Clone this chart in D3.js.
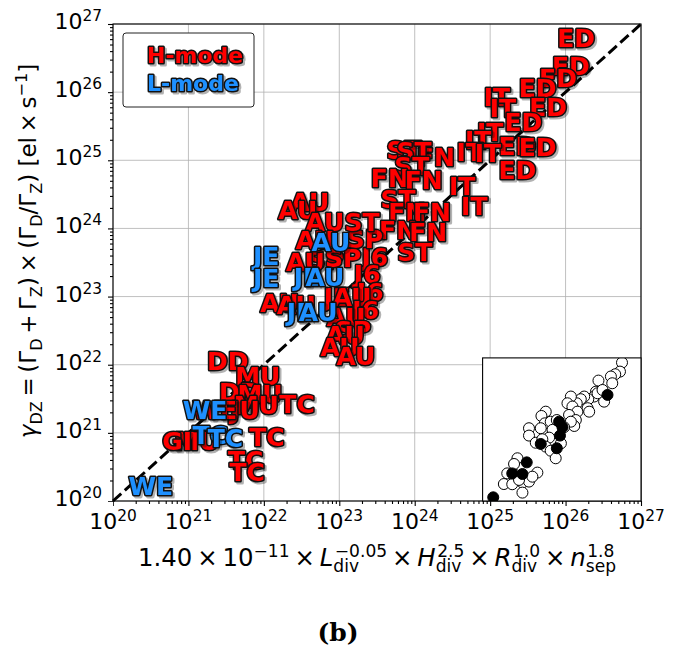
<!DOCTYPE html>
<html>
<head>
<meta charset="utf-8">
<script src="https://cdn.jsdelivr.net/npm/d3@7"></script>
<style>
  html, body { margin: 0; padding: 0; background: #fff; }
  svg { display: block; }
  text { font-family: "DejaVu Sans", sans-serif; }
  .devlabel { filter: drop-shadow(2px 2px 0px rgba(0,0,0,0.3)); }
</style>
</head>
<body>
<svg id="chart" width="689" height="648"></svg>
<script>
// ---- data (log10 of the x and y quantities) ----
const hmodeDevice = ["ED","ED","ED","ED","ED","IT","IT","ED","IT","IT","ED","ED","ED","IT","IT","FN",
  "ST","ST","ST","FN","FN","IT","IT","ST","FN","FN","FN","FN","ST","J6","SP","ST",
  "AU","AU","AU","AU","SP","AU","SP","J6","J6","JE","AU","AU","AU","J6","AU","SP","AU","AU","AU",
  "DD","MU","DD","MU","TC","MU","JU","WE","MU","GI","TC","TC","TC"];
const hmodeLogX = [26.14,26.07,25.90,25.63,25.77,25.09,25.17,25.44,25.00,24.84,25.36,25.63,25.36,24.73,24.97,24.28,
  23.86,23.99,23.96,23.67,24.12,24.63,24.79,23.78,23.90,24.23,23.78,24.18,24.00,23.47,23.34,23.30,
  22.61,22.45,22.81,22.68,22.82,22.55,23.05,23.37,23.41,22.97,23.17,22.21,22.43,23.35,23.09,23.18,23.08,23.01,23.22,
  21.52,21.92,21.68,21.95,22.44,21.90,21.75,21.35,21.11,20.85,22.04,21.76,21.78];
const hmodeLogY = [26.79,26.38,26.21,26.06,25.78,25.93,25.77,25.56,25.41,25.30,25.21,25.19,24.86,25.12,25.11,25.05,
  25.15,25.14,24.92,24.74,24.71,24.62,24.33,24.43,24.24,24.24,23.98,23.95,23.65,23.58,23.85,24.09,
  24.39,24.27,24.09,23.83,23.54,23.51,23.57,23.33,23.07,22.99,22.99,22.91,22.88,22.80,22.70,22.51,22.44,22.26,22.13,
  22.05,21.83,21.60,21.57,21.42,21.41,21.34,21.34,20.88,20.88,20.94,20.60,20.43];

const lmodeDevice = ["JE","JE","AU","JE","AU","JE","AU","WE","TC","TC","WE"];
const lmodeLogX = [22.03,22.03,22.89,22.57,22.81,22.48,22.72,21.22,21.29,21.49,20.50];
const lmodeLogY = [23.60,23.27,23.80,23.29,23.29,22.77,22.77,21.34,20.97,20.92,20.22];

// inset: open and filled circles
const insetOpenLogX = [26.16,26.07,25.86,25.67,25.73,25.12,25.01,24.93,24.67,24.49,24.34,24.16,23.90,23.75,23.97,24.19,24.64,24.71,23.82,24.12,24.05,23.90,25.37,25.08,25.30,
  22.79,22.60,22.75,22.57,23.01,23.09,22.94,22.05,22.05,22.35,22.64,22.79,23.01,23.23,23.46,23.60,23.28,
  21.54,21.39,21.46,21.09,20.94,21.31,21.76,22.05,22.42,21.76,22.20,21.61];
const insetOpenLogY = [26.77,26.33,26.20,26.09,25.76,25.89,25.35,25.11,24.98,25.11,24.98,24.78,25.11,24.78,24.62,24.37,24.54,24.37,24.21,23.96,23.67,23.88,24.86,25.27,25.43,
  24.37,24.16,23.80,23.56,23.88,23.48,23.10,23.56,23.20,22.85,23.02,22.66,22.46,22.09,22.82,23.61,23.96,
  22.09,21.81,21.27,21.35,20.83,20.82,20.90,20.95,21.39,20.41,21.19,21.03];
const insetFilledLogX = [25.52,23.38,23.53,23.42,23.28,22.57,21.95,21.31,21.76,20.47];
const insetFilledLogY = [25.19,23.88,23.61,23.20,22.58,22.79,21.89,21.35,21.32,20.18];

const tickExponents = [20,21,22,23,24,25,26,27];
const legendEntries = ["H-mode", "L-mode"];
const modeColor = { H: "#ff0000", L: "#1e90ff" };

// ---- layout ----
const svg = d3.select("#chart");
const plot = { left: 113, right: 641, top: 24, bottom: 501 };

const x = d3.scaleLog().domain([1e20, 1e27]).range([plot.left, plot.right]);
const y = d3.scaleLog().domain([1e20, 1e27]).range([plot.bottom, plot.top]);

const decades = tickExponents.map(e => Math.pow(10, e));
const minors = [];
tickExponents.slice(0, -1).forEach(e => {
  for (let k = 2; k <= 9; k++) minors.push(k * Math.pow(10, e));
});

// grid
const grid = svg.append("g").attr("stroke", "#b0b0b0").attr("stroke-width", 0.8);
grid.selectAll("line.gx").data(decades).join("line")
  .attr("x1", d => x(d)).attr("x2", d => x(d))
  .attr("y1", plot.top).attr("y2", plot.bottom);
grid.selectAll("line.gy").data(decades).join("line")
  .attr("y1", d => y(d)).attr("y2", d => y(d))
  .attr("x1", plot.left).attr("x2", plot.right);

// y = x reference line
svg.append("line")
  .attr("x1", x(1e20)).attr("y1", y(1e20))
  .attr("x2", x(1e27)).attr("y2", y(1e27))
  .attr("stroke", "#000").attr("stroke-width", 3)
  .attr("stroke-dasharray", "11.1,4.8");

// device labels: bold text, dark outline, soft offset shadow
function drawLabels(layer, names, lx, ly, color, fs) {
  const rows = names.map((n, i) => ({ n, x: Math.pow(10, lx[i]), y: Math.pow(10, ly[i]) }));
  layer.selectAll(null).data(rows).join("text")
    .attr("class", "devlabel")
    .attr("x", d => x(d.x)).attr("y", d => y(d.y)).attr("dy", "0.36em")
    .attr("text-anchor", "middle")
    .style("font-size", fs + "px").style("font-weight", "bold")
    .attr("fill", color).attr("stroke", "#111").attr("stroke-width", 3)
    .attr("stroke-linejoin", "round").attr("paint-order", "stroke")
    .text(d => d.n);
}
const labelLayer = svg.append("g");
drawLabels(labelLayer, hmodeDevice, hmodeLogX, hmodeLogY, modeColor.H, 25);
drawLabels(labelLayer, lmodeDevice, lmodeLogX, lmodeLogY, modeColor.L, 25);

// frame
svg.append("rect")
  .attr("x", plot.left).attr("y", plot.top)
  .attr("width", plot.right - plot.left).attr("height", plot.bottom - plot.top)
  .attr("fill", "none").attr("stroke", "#000").attr("stroke-width", 1.1);

// axes ticks
const xAxisG = svg.append("g").attr("transform", `translate(0,${plot.bottom})`);
xAxisG.call(d3.axisBottom(x).tickValues(decades).tickSize(5).tickFormat(""));
xAxisG.append("g").call(d3.axisBottom(x).tickValues(minors).tickSize(3).tickFormat(""));
const yAxisG = svg.append("g").attr("transform", `translate(${plot.left},0)`);
yAxisG.call(d3.axisLeft(y).tickValues(decades).tickSize(5).tickFormat(""));
yAxisG.append("g").call(d3.axisLeft(y).tickValues(minors).tickSize(3).tickFormat(""));
svg.selectAll(".domain").remove();
xAxisG.selectAll(".tick line").attr("stroke-width", 1.1);
yAxisG.selectAll(".tick line").attr("stroke-width", 1.1);
xAxisG.select("g").selectAll(".tick line").attr("stroke-width", 0.8);
yAxisG.select("g").selectAll(".tick line").attr("stroke-width", 0.8);

// tick labels 10^n
const tickFs = 22, supFs = 15.4;
tickExponents.forEach(e => {
  const t = svg.append("text").attr("x", x(Math.pow(10, e))).attr("y", 529)
    .attr("text-anchor", "middle").style("font-size", tickFs + "px");
  t.append("tspan").text("10");
  t.append("tspan").attr("dy", -8).style("font-size", supFs + "px").text(e);
  const u = svg.append("text").attr("x", 102).attr("y", y(Math.pow(10, e)) + 5)
    .attr("text-anchor", "end").style("font-size", tickFs + "px");
  u.append("tspan").text("10");
  u.append("tspan").attr("dy", -8).style("font-size", supFs + "px").text(e);
});

// math-style axis labels built from measured pieces
function mathLabel(g, atoms, fs) {
  let cx = 0;
  const small = fs * 0.7;
  atoms.forEach(a => {
    if (a.op) cx += fs * 0.2;
    const base = g.append("text").attr("x", cx).attr("y", 0)
      .style("font-size", fs + "px").style("font-style", a.it ? "oblique" : "normal")
      .text(a.t);
    cx += base.node().getComputedTextLength();
    let w = 0;
    if (a.sub) {
      const s = g.append("text").attr("x", cx).attr("y", fs * 0.24)
        .style("font-size", small + "px").text(a.sub);
      w = Math.max(w, s.node().getComputedTextLength());
    }
    if (a.sup) {
      const s = g.append("text").attr("x", cx + (a.it ? fs * 0.06 : 0)).attr("y", -fs * 0.38)
        .style("font-size", small + "px").text(a.sup);
      w = Math.max(w, s.node().getComputedTextLength() + (a.it ? fs * 0.06 : 0));
    }
    cx += w;
    if (a.op) cx += fs * 0.2;
  });
  return cx;
}

const xLabelAtoms = [
  { t: "1.40" }, { t: "×", op: true }, { t: "10", sup: "−11" }, { t: "×", op: true },
  { t: "L", it: true, sub: "div", sup: "−0.05" }, { t: "×", op: true },
  { t: "H", it: true, sub: "div", sup: "2.5" }, { t: "×", op: true },
  { t: "R", it: true, sub: "div", sup: "1.0" }, { t: "×", op: true },
  { t: "n", it: true, sub: "sep", sup: "1.8" }
];
const xl = svg.append("g");
const xw = mathLabel(xl, xLabelAtoms, 24.4);
xl.attr("transform", `translate(${(plot.left + plot.right) / 2 - xw / 2},566)`);

const yLabelAtoms = [
  { t: "γ", it: true, sub: "DZ" }, { t: "=", op: true }, { t: "(Γ", sub: "D" }, { t: "+", op: true },
  { t: "Γ", sub: "Z" }, { t: ")" }, { t: "×", op: true }, { t: "(Γ", sub: "D" }, { t: "/Γ", sub: "Z" },
  { t: ") [el" }, { t: "×", op: true }, { t: "s", sup: "−1" }, { t: "]" }
];
const yl = svg.append("g");
const yw = mathLabel(yl, yLabelAtoms, 23);
yl.attr("transform", `translate(36,${251 + yw / 2}) rotate(-90)`);

// legend
const leg = svg.append("g");
leg.append("rect").attr("x", 123).attr("y", 33).attr("width", 131).attr("height", 74)
  .attr("rx", 3).attr("fill", "#fff").attr("stroke", "#222").attr("stroke-width", 1);
legendEntries.forEach((name, i) => {
  const col = i === 0 ? modeColor.H : modeColor.L;
  leg.append("text").attr("class", "devlabel").attr("x", 147).attr("y", 63 + i * 28)
    .style("font-size", "22px").style("font-weight", "bold")
    .attr("fill", col).attr("stroke", "#111").attr("stroke-width", 3)
    .attr("stroke-linejoin", "round").attr("paint-order", "stroke").text(name);
});

// inset panel in the lower-right corner of the axes
const inset = {
  left: plot.left + 0.7 * (plot.right - plot.left),
  right: plot.right,
  top: plot.bottom - 0.3 * (plot.bottom - plot.top),
  bottom: plot.bottom
};
const ix = d3.scaleLog().domain([1e20, 1e27]).range([inset.left, inset.right]);
const iy = d3.scaleLog().domain([1e20, 1e27]).range([inset.bottom, inset.top]);
svg.append("defs").append("clipPath").attr("id", "insetClip")
  .append("rect").attr("x", inset.left).attr("y", inset.top)
  .attr("width", inset.right - inset.left).attr("height", inset.bottom - inset.top);
const ig = svg.append("g");
ig.append("rect").attr("x", inset.left).attr("y", inset.top)
  .attr("width", inset.right - inset.left).attr("height", inset.bottom - inset.top)
  .attr("fill", "#fff");
const pts = ig.append("g").attr("clip-path", "url(#insetClip)");
pts.selectAll("circle.open").data(insetOpenLogX.map((v, i) => [v, insetOpenLogY[i]])).join("circle")
  .attr("cx", d => ix(Math.pow(10, d[0]))).attr("cy", d => iy(Math.pow(10, d[1])))
  .attr("r", 5.5).attr("fill", "#fff").attr("stroke", "#000").attr("stroke-width", 1);
pts.selectAll("circle.filled").data(insetFilledLogX.map((v, i) => [v, insetFilledLogY[i]])).join("circle")
  .attr("cx", d => ix(Math.pow(10, d[0]))).attr("cy", d => iy(Math.pow(10, d[1])))
  .attr("r", 5.5).attr("fill", "#000").attr("stroke", "#000").attr("stroke-width", 1);
ig.append("rect").attr("x", inset.left).attr("y", inset.top)
  .attr("width", inset.right - inset.left).attr("height", inset.bottom - inset.top)
  .attr("fill", "none").attr("stroke", "#000").attr("stroke-width", 1.1);

// panel caption
svg.append("text").attr("x", 338).attr("y", 641).attr("text-anchor", "middle")
  .style("font-family", "'DejaVu Serif', serif").style("font-weight", "bold")
  .style("font-size", "25px").text("(b)");
</script>
</body>
</html>
